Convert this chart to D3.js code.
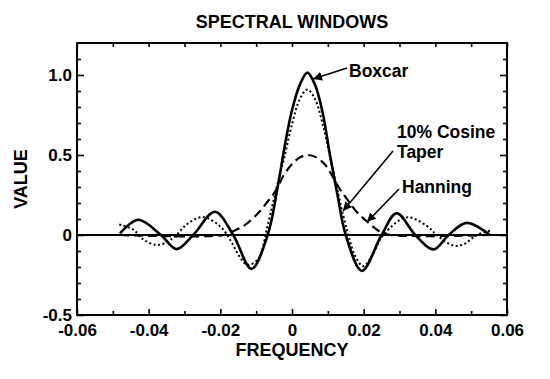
<!DOCTYPE html>
<html>
<head>
<meta charset="utf-8">
<script src="https://cdn.jsdelivr.net/npm/d3@7"></script>
<style>
  body { margin: 0; background: #fff; }
  text { font-family: "Liberation Sans", Arial, sans-serif; font-weight: bold; fill: #000; }
</style>
</head>
<body>
<div id="chart"></div>
<script>
// values: [frequency, value]
const boxcar = [
  [-0.0480, 0.01], [-0.0429, 0.095], [-0.0366, 0.0], [-0.0322, -0.088],
  [-0.0276, 0.0], [-0.0215, 0.145], [-0.0164, 0.0], [-0.0113, -0.212],
  [-0.0068, 0.0], [-0.0040, 0.30], [-0.0020, 0.56], [0.0000, 0.78],
  [0.0022, 0.94], [0.0043, 1.015], [0.0064, 0.94], [0.0085, 0.77],
  [0.0106, 0.50], [0.0127, 0.25], [0.0150, 0.0], [0.0195, -0.224],
  [0.0250, 0.0], [0.0292, 0.136], [0.0344, 0.0], [0.0395, -0.09],
  [0.0437, 0.0], [0.0488, 0.076], [0.0553, 0.0]
];
const cosineTaper = [
  [-0.0482, 0.066], [-0.0443, 0.034], [-0.0415, -0.028], [-0.0375, -0.062],
  [-0.0331, -0.018], [-0.0294, 0.066], [-0.0250, 0.112], [-0.0201, 0.055],
  [-0.0173, -0.028], [-0.0145, -0.14], [-0.0125, -0.186], [-0.0094, -0.15],
  [-0.0071, 0.03], [-0.0047, 0.26], [-0.0021, 0.49], [0.0001, 0.70],
  [0.0022, 0.85], [0.0043, 0.91], [0.0064, 0.85], [0.0085, 0.70],
  [0.0106, 0.49], [0.0125, 0.30], [0.0139, 0.16], [0.0157, 0.0],
  [0.0176, -0.13], [0.0199, -0.195], [0.0223, -0.13], [0.0255, 0.0],
  [0.0320, 0.11], [0.0376, 0.057], [0.0404, 0.0], [0.0450, -0.066],
  [0.0479, -0.058], [0.0516, 0.0], [0.0558, 0.03]
];
const hanning = [
  [-0.0480, 0.0], [-0.0190, 0.0], [-0.0164, 0.024], [-0.0136, 0.055],
  [-0.0103, 0.117], [-0.0071, 0.20], [-0.0043, 0.285], [-0.0024, 0.37],
  [-0.0001, 0.44], [0.0022, 0.485], [0.0045, 0.50], [0.0068, 0.485],
  [0.0092, 0.44], [0.0111, 0.375], [0.0130, 0.30], [0.0150, 0.235],
  [0.0180, 0.146], [0.0218, 0.068], [0.0246, 0.02], [0.0275, 0.0],
  [0.0556, 0.0]
];
const xMajorTicks = [-0.06, -0.04, -0.02, 0, 0.02, 0.04, 0.06];
const xMinorTicks = [-0.05, -0.03, -0.01, 0.01, 0.03, 0.05];
const yMajorTicks = [-0.5, 0, 0.5, 1.0];
const yMinorTicks = [-0.4, -0.3, -0.2, -0.1, 0.1, 0.2, 0.3, 0.4, 0.6, 0.7, 0.8, 0.9, 1.1];
const xLabels = ["-0.06", "-0.04", "-0.02", "0", "0.02", "0.04", "0.06"];
const yLabels = ["-0.5", "0", "0.5", "1.0"];

const margin = {top: 43, right: 43, bottom: 64, left: 77},
      width = 550 - margin.left - margin.right,
      height = 379 - margin.top - margin.bottom;

const svg = d3.select("#chart")
  .append("svg")
  .attr("width", 550)
  .attr("height", 379)
  .append("g")
  .attr("transform", `translate(${margin.left}, ${margin.top})`);

const x = d3.scaleLinear().domain([-0.06, 0.06]).range([0, width]);
const y = d3.scaleLinear().domain([-0.5, 1.2]).range([height, 0]);

// axes: inward ticks on all four sides
function styleAxis(g) {
  g.select(".domain").remove();
  g.selectAll("line").attr("stroke", "#000").attr("stroke-width", 1.6);
  g.selectAll("text").style("font-size", "17px");
}
svg.append("g").attr("transform", `translate(0, ${height})`)
  .call(d3.axisBottom(x).tickValues(xMajorTicks).tickSize(-6).tickPadding(9)
    .tickFormat((d, i) => xLabels[i]))
  .call(styleAxis);
svg.append("g").attr("transform", `translate(0, ${height})`)
  .call(d3.axisBottom(x).tickValues(xMinorTicks).tickSize(-4).tickFormat(""))
  .call(styleAxis);
svg.append("g")
  .call(d3.axisTop(x).tickValues(xMajorTicks.concat(xMinorTicks)).tickSize(-4).tickFormat(""))
  .call(styleAxis);
svg.append("g")
  .call(d3.axisLeft(y).tickValues(yMajorTicks).tickSize(-7).tickPadding(5)
    .tickFormat((d, i) => yLabels[i]))
  .call(styleAxis);
svg.append("g")
  .call(d3.axisLeft(y).tickValues(yMinorTicks).tickSize(-4).tickFormat(""))
  .call(styleAxis);
svg.append("g").attr("transform", `translate(${width}, 0)`)
  .call(d3.axisRight(y).tickValues(yMajorTicks).tickSize(-7).tickFormat(""))
  .call(styleAxis);
svg.append("g").attr("transform", `translate(${width}, 0)`)
  .call(d3.axisRight(y).tickValues(yMinorTicks).tickSize(-4).tickFormat(""))
  .call(styleAxis);

// frame
svg.append("rect")
  .attr("width", width).attr("height", height)
  .attr("fill", "none").attr("stroke", "#000").attr("stroke-width", 2);

// zero line
svg.append("line")
  .attr("x1", 0).attr("x2", width)
  .attr("y1", y(0)).attr("y2", y(0))
  .attr("stroke", "#000").attr("stroke-width", 2);

const line = d3.line()
  .x(d => x(d[0]))
  .y(d => y(d[1]))
  .curve(d3.curveCatmullRom.alpha(0.5));

svg.append("path").datum(hanning)
  .attr("d", line).attr("fill", "none").attr("stroke", "#000")
  .attr("stroke-width", 2.2).attr("stroke-dasharray", "9,5");
svg.append("path").datum(cosineTaper)
  .attr("d", line).attr("fill", "none").attr("stroke", "#000")
  .attr("stroke-width", 2).attr("stroke-dasharray", "2,2.5");
svg.append("path").datum(boxcar)
  .attr("d", line).attr("fill", "none").attr("stroke", "#000")
  .attr("stroke-width", 2.6);

// title and axis titles
svg.append("text")
  .attr("x", x(0)).attr("y", -15)
  .attr("text-anchor", "middle").style("font-size", "18px")
  .text("SPECTRAL WINDOWS");
svg.append("text")
  .attr("x", x(0)).attr("y", height + 41)
  .attr("text-anchor", "middle").style("font-size", "18px")
  .text("FREQUENCY");
svg.append("text")
  .attr("transform", `translate(-50, ${y(0.35)}) rotate(-90)`)
  .attr("text-anchor", "middle").style("font-size", "18px")
  .text("VALUE");

// annotations with arrows
svg.append("defs").append("marker")
  .attr("id", "arrow")
  .attr("viewBox", "0 0 10 10")
  .attr("refX", 10).attr("refY", 5)
  .attr("markerWidth", 9).attr("markerHeight", 9)
  .attr("markerUnits", "userSpaceOnUse")
  .attr("orient", "auto")
  .append("path").attr("d", "M0,0 L10,5 L0,10 Z").attr("fill", "#000");

const notes = [
  {lines: ["Boxcar"], tx: 272, ty: 34, from: [270, 25], to: [236, 36]},
  {lines: ["10% Cosine", "Taper"], tx: 320, ty: 95, from: [316, 108], to: [266, 168]},
  {lines: ["Hanning"], tx: 325, ty: 150, from: [322, 146], to: [290, 179]}
];
notes.forEach(n => {
  n.lines.forEach((s, i) => {
    svg.append("text")
      .attr("x", n.tx).attr("y", n.ty + i * 19.5)
      .style("font-size", "17.5px")
      .text(s);
  });
  svg.append("line")
    .attr("x1", n.from[0]).attr("y1", n.from[1])
    .attr("x2", n.to[0]).attr("y2", n.to[1])
    .attr("stroke", "#000").attr("stroke-width", 1.6)
    .attr("marker-end", "url(#arrow)");
});
</script>
</body>
</html>
